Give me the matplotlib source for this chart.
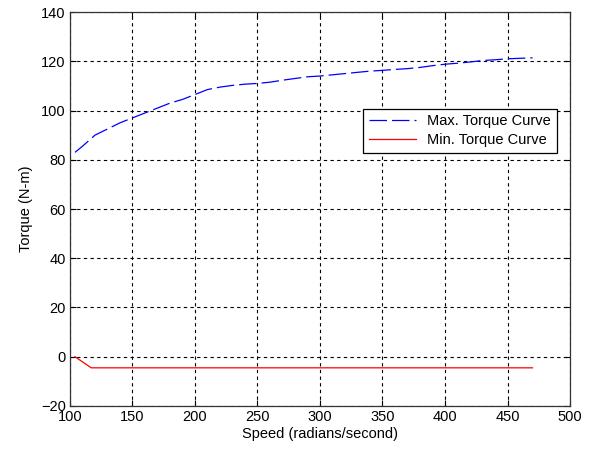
import matplotlib
matplotlib.use("Agg")
import matplotlib.pyplot as plt

# data
speed_max = [104, 110, 120, 130, 140, 150, 160, 170, 180, 190, 200, 210, 220, 230, 240,
             250, 260, 270, 280, 290, 300, 310, 320, 330, 340, 350, 360, 370, 380, 390,
             400, 410, 420, 430, 440, 450, 460, 470]
torque_max = [83, 85.5, 90, 92.5, 95, 97, 99, 101, 103, 104.5, 106.5, 108.5, 109.5, 110.2,
              110.7, 111, 111.5, 112.3, 113, 113.7, 114, 114.5, 115, 115.5, 116, 116.3,
              116.7, 117, 117.5, 118.2, 118.8, 119.2, 119.7, 120.3, 120.6, 121, 121.2, 121.4]
speed_min = [104, 117, 470]
torque_min = [0, -4.5, -4.5]

xticks = [100, 150, 200, 250, 300, 350, 400, 450, 500]
yticks = [-20, 0, 20, 40, 60, 80, 100, 120, 140]

plt.rcParams['font.family'] = ['Liberation Sans', 'DejaVu Sans']

fig = plt.figure(figsize=(6.06, 4.5), dpi=100)
ax = fig.add_axes([0.1155, 0.0978, 0.8251, 0.8755])

ax.plot(speed_max, torque_max, color='blue', linewidth=0.9, dashes=(14, 4),
        label='Max. Torque Curve')
ax.plot(speed_min, torque_min, color='red', linewidth=0.9, label='Min. Torque Curve')

ax.set_xlim(100, 500)
ax.set_ylim(-20, 140)
ax.set_xticks(xticks)
ax.set_yticks(yticks)
ax.grid(True, color='black', linestyle=(0, (3, 3)), linewidth=0.8)
ax.tick_params(direction='in', length=4, top=True, right=True, labelsize=10.5, pad=3)
for s in ax.spines.values():
    s.set_color('#333333')
    s.set_linewidth(0.9)

ax.set_xlabel('Speed (radians/second)', fontsize=10.5, labelpad=2)
ax.set_ylabel('Torque (N-m)', fontsize=10.5, labelpad=6)

leg = ax.legend(loc='upper right', bbox_to_anchor=(0.974, 0.755), fontsize=10.5,
                fancybox=False, framealpha=1, edgecolor='black', borderpad=0.4,
                handlelength=3.2, labelspacing=0.3, borderaxespad=0)
leg.get_frame().set_linewidth(0.9)

fig.savefig('out.png', dpi=100)
